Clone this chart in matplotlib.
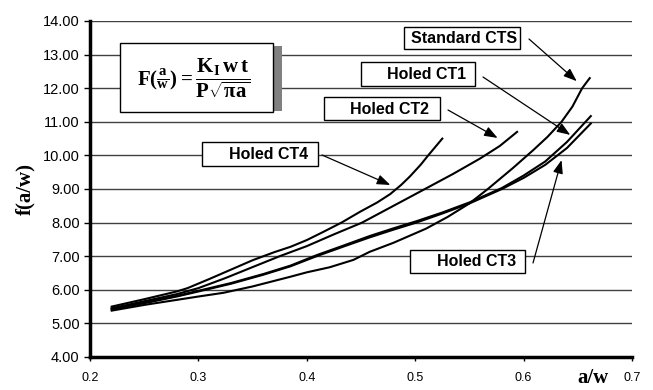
import matplotlib
matplotlib.use("Agg")
import matplotlib.pyplot as plt
import matplotlib.transforms as mtransforms
from matplotlib.patches import Rectangle

# Crack-length ratio a/w and geometry factor f(a/w) for each specimen
x_cts = [0.22, 0.25, 0.28, 0.30, 0.323, 0.35, 0.385, 0.40, 0.421, 0.443, 0.458,
         0.48, 0.51, 0.53, 0.55, 0.567, 0.59, 0.609, 0.622, 0.635, 0.645, 0.654, 0.661]
y_cts = [5.38, 5.55, 5.70, 5.80, 5.91, 6.10, 6.39, 6.52, 6.67, 6.89, 7.13,
         7.40, 7.82, 8.17, 8.57, 9.00, 9.62, 10.16, 10.55, 11.00, 11.45, 12.00, 12.30]

x_ct4 = [0.22, 0.25, 0.28, 0.29, 0.31, 0.33, 0.35, 0.37, 0.385, 0.40, 0.415,
         0.432, 0.449, 0.465, 0.477, 0.487, 0.495, 0.505, 0.512, 0.525]
y_ct4 = [5.50, 5.72, 5.95, 6.05, 6.32, 6.60, 6.88, 7.12, 7.28, 7.48, 7.72,
         8.00, 8.32, 8.60, 8.85, 9.12, 9.37, 9.72, 10.00, 10.50]

x_ct2 = [0.22, 0.25, 0.28, 0.30, 0.325, 0.348, 0.375, 0.40, 0.425, 0.451,
         0.48, 0.509, 0.535, 0.56, 0.578, 0.594]
y_ct2 = [5.45, 5.66, 5.87, 6.05, 6.35, 6.65, 7.00, 7.30, 7.65, 8.00,
         8.50, 9.00, 9.45, 9.91, 10.28, 10.70]

x_ct13 = [0.22, 0.25, 0.28, 0.30, 0.33, 0.36, 0.385, 0.409, 0.435, 0.458,
          0.479, 0.501, 0.525, 0.55, 0.58, 0.60, 0.62, 0.64, 0.662]
y_ct3 = [5.42, 5.60, 5.80, 5.95, 6.18, 6.45, 6.70, 7.00, 7.30, 7.56,
         7.78, 8.00, 8.27, 8.57, 9.00, 9.33, 9.72, 10.22, 10.95]
y_ct1 = [5.44, 5.62, 5.82, 5.97, 6.20, 6.47, 6.72, 7.03, 7.33, 7.60,
         7.82, 8.04, 8.30, 8.60, 9.03, 9.40, 9.82, 10.40, 11.17]

y_ticks = [4, 5, 6, 7, 8, 9, 10, 11, 12, 13, 14]
x_ticks = [0.2, 0.3, 0.4, 0.5, 0.6, 0.7]
x_tick_labels = ["0.2", "0.3", "0.4", "0.5", "0.6", "0.7"]

plt.rcParams["mathtext.fontset"] = "custom"
plt.rcParams["mathtext.rm"] = "Liberation Serif:bold"
plt.rcParams["mathtext.bf"] = "Liberation Serif:bold"
plt.rcParams["mathtext.it"] = "Liberation Serif:bold"

W, H = 653, 390
fig = plt.figure(figsize=(W / 100, H / 100), dpi=100)
# pixel coordinates, origin top-left
px = mtransforms.Affine2D().scale(1 / W, -1 / H).translate(0, 1) + fig.transFigure

ax = fig.add_axes([90 / W, 1 - 357 / H, 542 / W, 336 / H])
ax.set_xlim(0.2, 0.7)
ax.set_ylim(4, 14)

for xs, ys in [(x_cts, y_cts), (x_ct4, y_ct4), (x_ct2, y_ct2),
               (x_ct13, y_ct3), (x_ct13, y_ct1)]:
    ax.plot(xs, ys, color="black", lw=1.5, solid_joinstyle="round", zorder=3)

ax.set_yticks(y_ticks)
ax.set_yticklabels([f"{v:.2f}" for v in y_ticks], fontsize=10.5, family="Liberation Sans")
ax.set_xticks(x_ticks)
ax.set_xticklabels(x_tick_labels, fontsize=9, family="Liberation Sans")
ax.tick_params(axis="y", length=4, width=1, pad=3.5)
ax.tick_params(axis="x", length=3, width=1, pad=8)
ax.yaxis.grid(True, color="#404040", lw=1.0)
ax.set_axisbelow(True)
for s in ["top", "right"]:
    ax.spines[s].set_visible(False)
ax.spines["left"].set_linewidth(2.5)
ax.spines["bottom"].set_linewidth(2.5)

serif = "Liberation Serif"
ax.set_ylabel("f(a/w)", fontsize=15, fontweight="bold", family=serif, labelpad=5)
fig.text(593, 378, "a/w", transform=px, fontsize=15, fontweight="bold",
         family=serif, ha="center", va="center")

# Formula box with shadow
fig.patches.append(Rectangle((273, 46), 9, 65, transform=px, facecolor="#808080",
                             edgecolor="none", zorder=5))
fig.patches.append(Rectangle((120, 43), 153, 69, transform=px, facecolor="white",
                             edgecolor="black", lw=1.0, zorder=6))
fig.text(194, 78,
         r"$\mathbf{F(\frac{a}{w}) = \dfrac{K_{I}\,w\,t}{P\sqrt{\pi a}}}$",
         transform=px, fontsize=15, ha="center", va="center", zorder=7)

# Labelled boxes with arrows pointing at the curves
labels = [
    # text, box (x0, y0, x1, y1), text right edge, arrow tail, arrow tip (data)
    ("Standard CTS", (404, 27, 520, 49), 517, (529, 39), (0.649, 12.21)),
    ("Holed CT1", (361, 62, 475, 86), 466, (483, 77), (0.643, 10.61)),
    ("Holed CT2", (324, 97, 440, 120), 429, (448, 110), (0.576, 10.52)),
    ("Holed CT4", (202, 142, 318, 166), 308, (322, 155), (0.477, 9.12)),
    ("Holed CT3", (410, 250, 525, 273), 516, (533, 263), (0.635, 9.86)),
]
for text, (x0, y0, x1, y1), tx, tail, tip in labels:
    fig.patches.append(Rectangle((x0, y0), x1 - x0, y1 - y0, transform=px,
                                 facecolor="white", edgecolor="black", lw=1.0, zorder=5))
    fig.text(tx, (y0 + y1) / 2 + 0.5, text, transform=px, fontsize=11.5,
             fontweight="bold", family="Liberation Sans", ha="right", va="center",
             zorder=6)
    ax.annotate("", xy=tip, xycoords="data", xytext=tail, textcoords=px,
                arrowprops=dict(arrowstyle="-|>,head_length=0.8,head_width=0.3",
                                mutation_scale=10, color="black", lw=0.9,
                                shrinkA=0, shrinkB=0),
                zorder=4, annotation_clip=False)

fig.savefig("out.png", dpi=100)
